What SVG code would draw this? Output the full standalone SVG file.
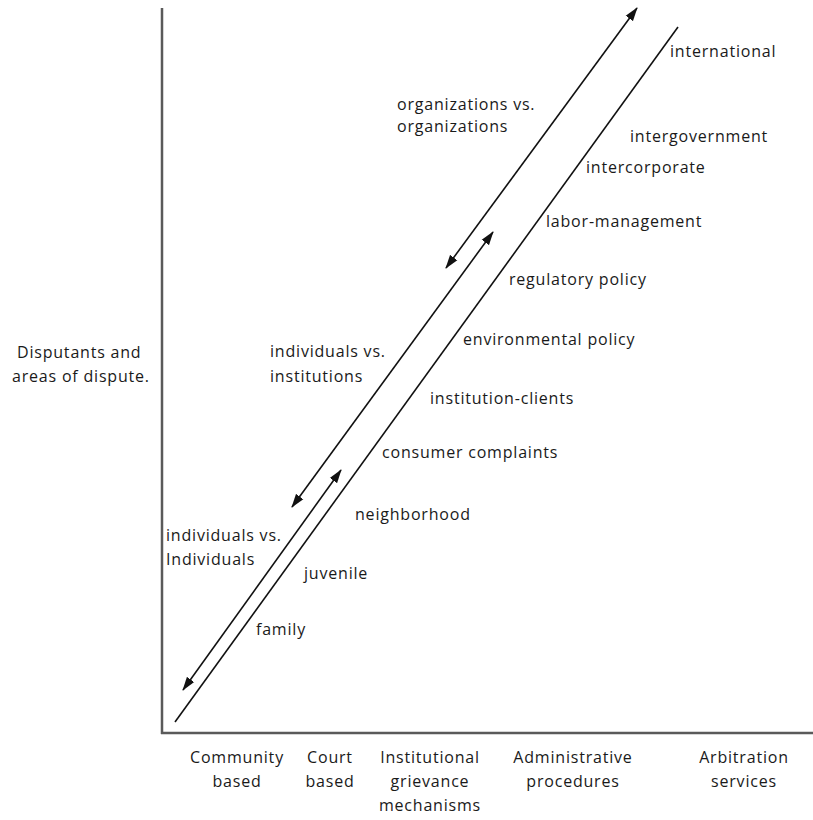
<svg xmlns="http://www.w3.org/2000/svg" width="813" height="820" viewBox="0 0 813 820">
  <style>
    .lbl { font-family: "Open Sans", "Liberation Sans", sans-serif; font-size: 16px; fill: #1a1a1a; letter-spacing: 0.8px; }
    .mid { text-anchor: middle; }
    .axis { stroke: #5a5a5a; stroke-width: 2.5; fill: none; }
    .diag { stroke: #111; stroke-width: 1.6; fill: none; }
    .arr { stroke: #111; stroke-width: 1.6; fill: none; marker-start: url(#head); marker-end: url(#head); }
  </style>
  <defs>
    <marker id="head" markerUnits="userSpaceOnUse" markerWidth="14" markerHeight="10" refX="13" refY="5" orient="auto-start-reverse">
      <path d="M0,0.5 L14,5 L0,9.5 z" fill="#111"/>
    </marker>
  </defs>
  <rect width="813" height="820" fill="#fff"/>

  <!-- axes -->
  <g id="axes">
    <line class="axis" x1="162" y1="8" x2="162" y2="734"/>
    <line class="axis" x1="161" y1="733" x2="813" y2="733"/>
  </g>

  <!-- connectors: the continuum line and the three disputant ranges -->
  <g id="connectors">
    <line class="diag" x1="175" y1="722" x2="678" y2="27"/>
    <line class="arr" x1="446" y1="268" x2="637" y2="8"/>
    <line class="arr" x1="292" y1="507" x2="493" y2="232"/>
    <line class="arr" x1="183" y1="690" x2="341" y2="470"/>
  </g>

  <g id="y-axis-title">
    <text class="lbl" x="17" y="358">Disputants and</text>
    <text class="lbl" x="12" y="382">areas of dispute.</text>
  </g>

  <g id="range-organizations">
    <text class="lbl" x="397" y="110">organizations vs.</text>
    <text class="lbl" x="397" y="132">organizations</text>
  </g>
  <g id="range-institutions">
    <text class="lbl" x="270" y="357">individuals vs.</text>
    <text class="lbl" x="270" y="382">institutions</text>
  </g>
  <g id="range-individuals">
    <text class="lbl" x="166" y="541">individuals vs.</text>
    <text class="lbl" x="166" y="565">Individuals</text>
  </g>

  <!-- areas of dispute along the continuum -->
  <g id="area-international"><text class="lbl" x="670" y="57">international</text></g>
  <g id="area-intergovernment"><text class="lbl" x="630" y="142">intergovernment</text></g>
  <g id="area-intercorporate"><text class="lbl" x="586" y="173">intercorporate</text></g>
  <g id="area-labor"><text class="lbl" x="546" y="227">labor-management</text></g>
  <g id="area-regulatory"><text class="lbl" x="509" y="285">regulatory policy</text></g>
  <g id="area-environmental"><text class="lbl" x="463" y="345">environmental policy</text></g>
  <g id="area-institution-clients"><text class="lbl" x="430" y="404">institution-clients</text></g>
  <g id="area-consumer"><text class="lbl" x="382" y="458">consumer complaints</text></g>
  <g id="area-neighborhood"><text class="lbl" x="355" y="520">neighborhood</text></g>
  <g id="area-juvenile"><text class="lbl" x="304" y="579">juvenile</text></g>
  <g id="area-family"><text class="lbl" x="256" y="635">family</text></g>

  <!-- forums along the x axis -->
  <g id="forum-community">
    <text class="lbl mid" x="237" y="763">Community</text>
    <text class="lbl mid" x="237" y="787">based</text>
  </g>
  <g id="forum-court">
    <text class="lbl mid" x="330" y="763">Court</text>
    <text class="lbl mid" x="330" y="787">based</text>
  </g>
  <g id="forum-institutional">
    <text class="lbl mid" x="430" y="763">Institutional</text>
    <text class="lbl mid" x="430" y="787">grievance</text>
    <text class="lbl mid" x="430" y="811">mechanisms</text>
  </g>
  <g id="forum-administrative">
    <text class="lbl mid" x="573" y="763">Administrative</text>
    <text class="lbl mid" x="573" y="787">procedures</text>
  </g>
  <g id="forum-arbitration">
    <text class="lbl mid" x="744" y="763">Arbitration</text>
    <text class="lbl mid" x="744" y="787">services</text>
  </g>
</svg>
